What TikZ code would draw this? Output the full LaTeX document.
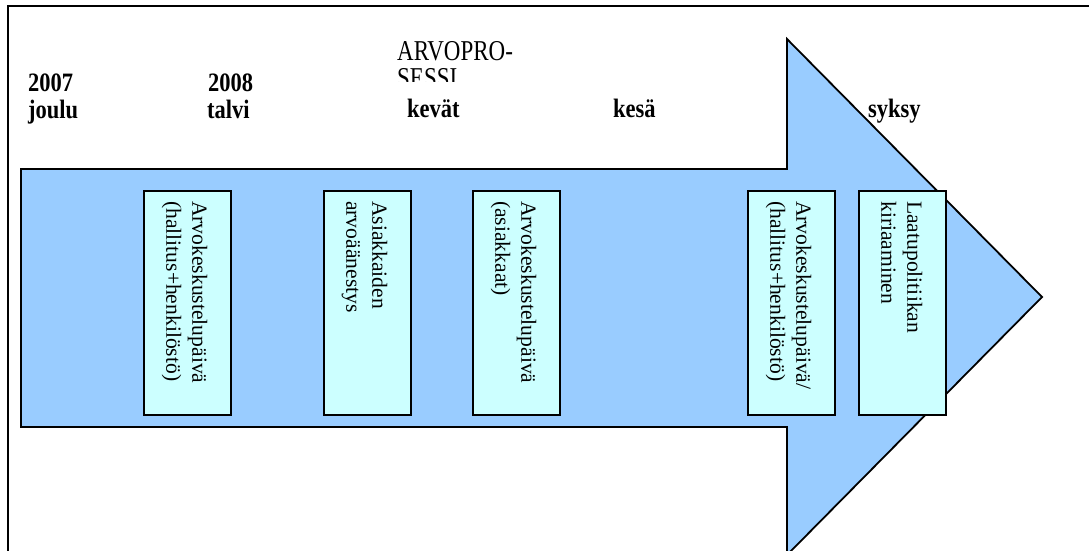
\documentclass[tikz,border=0pt]{standalone}
\usepackage{graphicx}
\usepackage{fontspec}
\setmainfont{Liberation Serif}
\definecolor{arrowblue}{RGB}{153,204,255}
\definecolor{boxcyan}{RGB}{204,255,255}
% taller lettering for the horizontal labels
\newcommand{\tall}[1]{\scalebox{1}[1.18]{#1}}
\newcommand{\taller}[1]{\scalebox{1}[1.25]{#1}}
\begin{document}
\begin{tikzpicture}[x=1pt,y=-1pt,
  stagebox/.style={draw=black, line width=1.6pt, fill=boxcyan, inner sep=0pt,
    minimum width=87pt, minimum height=224pt, anchor=north west},
  stagetext/.style={rotate=-90, anchor=north west, inner sep=0pt, align=left,
    font=\fontsize{21.6}{26}\selectfont},
  season/.style={anchor=base west, inner sep=0pt, font=\fontsize{22.5}{26}\selectfont\bfseries},
  heading/.style={anchor=base west, inner sep=0pt, align=left, font=\fontsize{23}{28}\selectfont}]
\useasboundingbox (0,0) rectangle (1089,551);

% frame and the big process arrow
\begin{scope}
  \clip (0,0) rectangle (1089,551);
  \draw[line width=2.5pt] (8,6) rectangle (1100,570);
  \draw[line width=1.8pt, fill=arrowblue, line join=miter]
    (21,169) -- (787,169) -- (787,39) -- (1042,297) -- (787,555)
    -- (787,427) -- (21,427) -- cycle;
\end{scope}

% heading, cut off by its text frame
\begin{scope}
  \clip (390,30) rectangle (560,81);
  \node[heading] (head) at (397,88) {\taller{ARVOPRO-}\\\taller{SESSI}};
\end{scope}

% time line labels
\node[season] (y2007) at (28,92) {\tall{2007}};
\node[season] (joulu) at (28,118) {\tall{joulu}};
\node[season] (y2008) at (208,92) {\tall{2008}};
\node[season] (talvi) at (207,118) {\tall{talvi}};
\node[season] (kevat) at (407,117) {\tall{kevät}};
\node[season] (kesa)  at (613,117) {\tall{kesä}};
\node[season] (syksy) at (868,117) {\tall{syksy}};

% stages
\node[stagebox] (b1) at (143,190) {};
\node[stagebox] (b2) at (323,190) {};
\node[stagebox] (b3) at (472,190) {};
\node[stagebox] (b4) at (747,190) {};
\node[stagebox] (b5) at (858,190) {};

\node[stagetext] (t1) at ([xshift=-24pt,yshift=-11pt]b1.north east) {Arvokeskustelupäivä\\(hallitus+henkilöstö)};
\node[stagetext] (t2) at ([xshift=-24pt,yshift=-11pt]b2.north east) {Asiakkaiden\\arvoäänestys};
\node[stagetext] (t3) at ([xshift=-24pt,yshift=-11pt]b3.north east) {Arvokeskustelupäivä\\(asiakkaat)};
\node[stagetext] (t4) at ([xshift=-24pt,yshift=-11pt]b4.north east) {Arvokeskustelupäivä/\\(hallitus+henkilöstö)};
\node[stagetext] (t5) at ([xshift=-24pt,yshift=-11pt]b5.north east) {Laatupolitiikan\\kiriaaminen};
\end{tikzpicture}
\end{document}
